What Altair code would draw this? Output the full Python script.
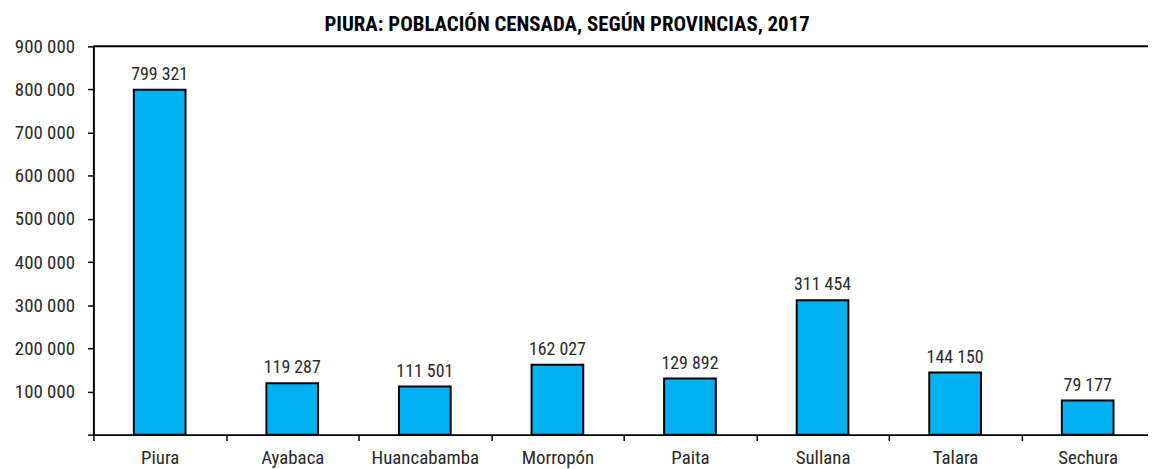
import altair as alt
import pandas as pd

provincias = ["Piura", "Ayabaca", "Huancabamba", "Morropón", "Paita", "Sullana", "Talara", "Sechura"]
poblacion = [799321, 119287, 111501, 162027, 129892, 311454, 144150, 79177]
y_ticks = [0, 100000, 200000, 300000, 400000, 500000, 600000, 700000, 800000, 900000]
titulo = "PIURA: POBLACIÓN CENSADA, SEGÚN PROVINCIAS, 2017"

df = pd.DataFrame({
    "provincia": provincias,
    "poblacion": poblacion,
    "etiqueta": [f"{v:,}".replace(",", " ") for v in poblacion],
})

FONT = "'Roboto Condensed', 'DejaVu Sans Condensed', serif"
W, H = 1068, 391

x_enc = alt.X(
    "provincia:N", sort=provincias, title=None,
    scale=alt.Scale(paddingInner=0, paddingOuter=0),
    axis=alt.Axis(labelAngle=0, tickBand="extent", tickSize=6, tickColor="black",
                  tickWidth=1.5, domainColor="black", domainWidth=2,
                  labelFont=FONT, labelFontSize=19, labelColor="#2a2a2a",
                  labelPadding=8),
)
y_enc = alt.Y(
    "poblacion:Q", title=None,
    scale=alt.Scale(domain=[0, 900000], nice=False),
    axis=alt.Axis(values=y_ticks, grid=False, tickSize=6, tickColor="black",
                  tickWidth=1.5, domainColor="black", domainWidth=2,
                  labelFont=FONT, labelFontSize=19, labelColor="#2a2a2a",
                  labelPadding=13,
                  labelExpr="datum.value == 0 ? '' : replace(format(datum.value, ','), ',', ' ')"),
)

bars = alt.Chart(df).mark_bar(
    width={"band": 0.39}, color="#00B0F0", stroke="black", strokeWidth=2
).encode(x=x_enc, y=y_enc)

labels = alt.Chart(df).mark_text(
    font=FONT, fontSize=18, color="#2a2a2a", baseline="bottom", dy=-6
).encode(x=alt.X("provincia:N", sort=provincias), y="poblacion:Q", text="etiqueta:N")

top = alt.Chart(pd.DataFrame({"y": [900000]})).mark_rule(
    color="black", strokeWidth=2
).encode(y="y:Q", x=alt.value(0), x2=alt.value(W))

chart = alt.layer(bars, labels, top).properties(
    width=W, height=H,
    title=alt.TitleParams(titulo, font=FONT, fontSize=21, fontWeight="bold",
                          color="black", anchor="middle", dx=-57, offset=2),
    autosize=alt.AutoSizeParams(type="none"),
    padding={"left": 86, "top": 37, "right": -6, "bottom": 33},
).configure_view(stroke=None)

chart.save("out.html", embed_options={"renderer": "svg", "actions": False})
